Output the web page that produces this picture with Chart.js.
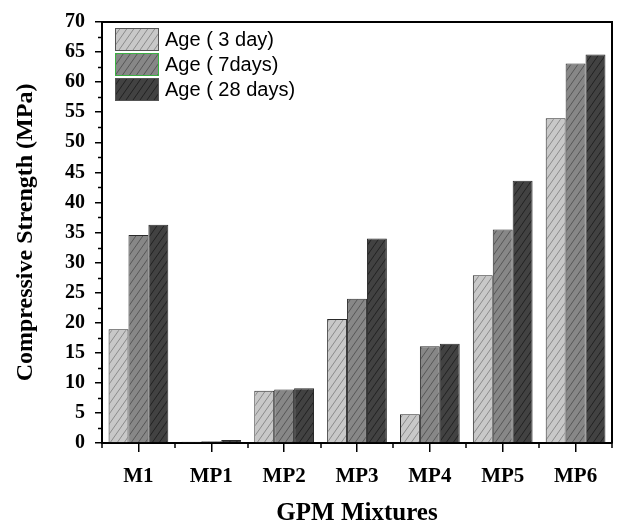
<!DOCTYPE html>
<html>
<head>
<meta charset="utf-8">
<script src="https://cdn.jsdelivr.net/npm/chart.js@4.4.1/dist/chart.umd.min.js"></script>
<style>
html,body{margin:0;padding:0;background:#fff;}
#wrap{width:618px;height:529px;position:relative;}
</style>
</head>
<body>
<div id="wrap"><canvas id="c" width="618" height="529"></canvas></div>
<script>
const categories = ['M1','MP1','MP2','MP3','MP4','MP5','MP6'];
const seriesLabels = ['Age ( 3 day)','Age ( 7days)','Age ( 28 days)'];
const age3 = [18.9, 0.2, 8.7, 20.6, 4.8, 27.9, 54.0];
const age7 = [34.6, 0.3, 8.9, 24.0, 16.1, 35.5, 63.1];
const age28 = [36.3, 0.5, 9.1, 34.0, 16.5, 43.6, 64.6];
const yTicks = [0,5,10,15,20,25,30,35,40,45,50,55,60,65,70];

function hatch(bg, line){
  const w=7,h=10;
  const c=document.createElement('canvas'); c.width=w; c.height=h;
  const x=c.getContext('2d');
  x.fillStyle=bg; x.fillRect(0,0,w,h);
  x.strokeStyle=line; x.lineWidth=1;
  x.beginPath();
  for(const dx of [-w,0,w]){ x.moveTo(dx,h); x.lineTo(dx+w,0); }
  x.stroke();
  return x.createPattern(c,'repeat');
}
const fills=[hatch('#c8c8c8','#8a8a8a'), hatch('#878787','#575757'), hatch('#424242','#222222')];

const extras = {
  id:'extras',
  afterDraw(chart){
    const ctx=chart.ctx, a=chart.chartArea, xs=chart.scales.x, ys=chart.scales.y;
    ctx.save();
    ctx.strokeStyle='#000'; ctx.lineWidth=2;
    ctx.beginPath();
    ctx.moveTo(a.left,a.top); ctx.lineTo(a.right,a.top); ctx.lineTo(a.right,a.bottom);
    ctx.stroke();
    ctx.lineWidth=1.5;
    ctx.beginPath();
    for(let i=0;i<yTicks.length-1;i++){
      const v=(yTicks[i]+yTicks[i+1])/2;
      const py=Math.round(ys.getPixelForValue(v))+0.5;
      ctx.moveTo(a.left,py); ctx.lineTo(a.left-4,py);
    }
    for(let i=0;i<=categories.length;i++){
      const px=Math.round(xs.getPixelForValue(i-0.5));
      ctx.moveTo(px,a.bottom); ctx.lineTo(px,a.bottom+5);
    }
    ctx.stroke();
    ctx.font='20px "Liberation Sans", Arial, sans-serif';
    ctx.textBaseline='middle'; ctx.textAlign='left';
    chart.data.datasets.forEach((ds,i)=>{
      const bx=115, by=28+i*25, bw=44, bh=23;
      ctx.fillStyle=ds.backgroundColor; ctx.fillRect(bx,by,bw,bh);
      ctx.lineWidth=1;
      ctx.strokeStyle = i===1 ? '#3cb043' : '#555';
      ctx.strokeRect(bx+0.5,by+0.5,bw-1,bh-1);
      ctx.fillStyle='#000';
      ctx.fillText(ds.label, bx+bw+6, by+bh/2+1);
    });
    ctx.restore();
  }
};

const ds=[age3,age7,age28].map((d,i)=>({
  label:seriesLabels[i], data:d, backgroundColor:fills[i],
  borderColor:'#2a2a2a', borderWidth:1,
  categoryPercentage:0.82, barPercentage:1.0
}));

new Chart(document.getElementById('c'),{
  type:'bar',
  data:{labels:categories, datasets:ds},
  options:{
    responsive:false, animation:false,
    layout:{padding:{left:0,right:6,top:18,bottom:0}},
    plugins:{legend:{display:false}, tooltip:{enabled:false}},
    scales:{
      x:{
        grid:{display:true, drawOnChartArea:false, offset:false, drawTicks:true, tickLength:9, color:'#000', lineWidth:1.5},
        border:{display:true, color:'#000', width:2},
        ticks:{color:'#000', padding:12, font:{family:'"Liberation Serif", "Times New Roman", serif', size:21, weight:'bold'}},
        title:{display:true, text:'GPM Mixtures', color:'#000', padding:{bottom:0}, font:{family:'"Liberation Serif", "Times New Roman", serif', size:25, weight:'bold'}},
        afterFit(s){ s.height=86; }
      },
      y:{
        min:0, max:70,
        afterBuildTicks(s){ s.ticks=yTicks.map(v=>({value:v})); },
        grid:{display:true, drawOnChartArea:false, drawTicks:true, tickLength:7, color:'#000', lineWidth:1.5},
        border:{display:true, color:'#000', width:2},
        ticks:{color:'#000', padding:10, font:{family:'"Liberation Serif", "Times New Roman", serif', size:20, weight:'bold'}},
        title:{display:true, text:'Compressive Strength (MPa)', color:'#000', padding:{top:11}, font:{family:'"Liberation Serif", "Times New Roman", serif', size:24, weight:'bold'}},
        afterFit(s){ s.width=102; }
      }
    }
  },
  plugins:[extras]
});
</script>
</body>
</html>
